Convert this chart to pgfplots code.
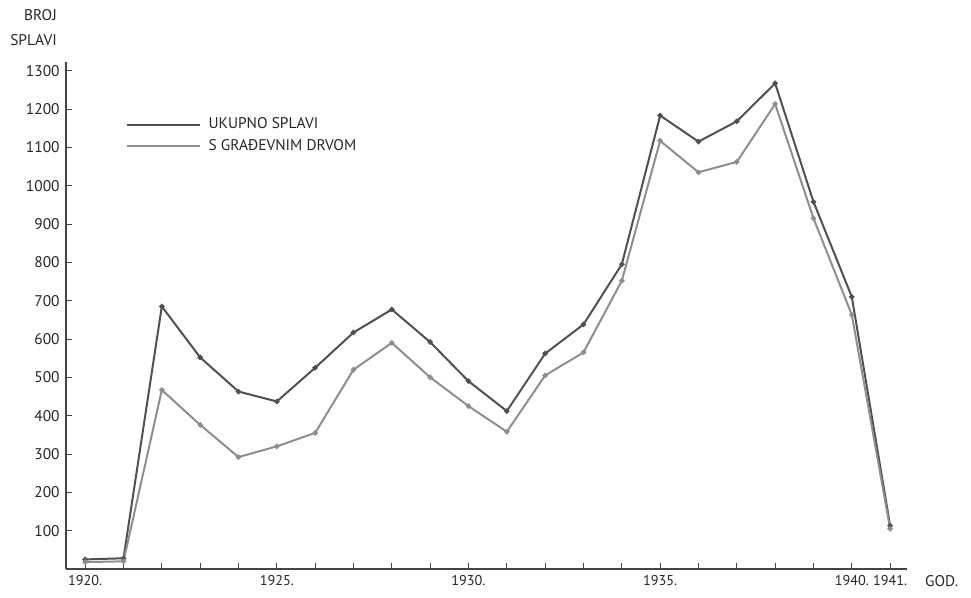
\documentclass[border=0pt]{standalone}
\usepackage{pgfplots}
\pgfplotsset{compat=1.18}
\usepackage{fontspec}
\setmainfont{PT Sans}
\definecolor{darkg}{HTML}{505050}
\definecolor{lightg}{HTML}{8E8E8E}
\definecolor{axg}{HTML}{444444}
\begin{document}
\fontsize{15.5}{18}\selectfont
\begin{tikzpicture}
\path[use as bounding box] (-66bp,-29bp) rectangle (905bp,569bp);
\begin{axis}[
  name=ax,
  at={(0,0)}, anchor=south west,
  scale only axis,
  width=841bp, height=507bp,
  xmin=1919.5, xmax=1941.44,
  ymin=0, ymax=1322.7,
  axis x line*=bottom, axis y line*=left,
  axis line style={axg, line width=1.3pt},
  every tick/.style={axg, line width=1pt},
  major tick length=6bp,
  tick align=inside,
  xtick={1920,1921,...,1941},
  xticklabels={1920.,,,,,1925.,,,,,1930.,,,,,1935.,,,,,1940.,1941.},
  ytick={100,200,...,1300},
  /pgf/number format/assume math mode=true,
  /pgf/number format/1000 sep={},
  yticklabel style={xshift=-1bp, font=\fontsize{15.5}{18}\selectfont, text=black!85},
  xticklabel style={yshift=-1bp, font=\fontsize{14.3}{18}\selectfont, text=black!85},
  legend style={draw=none, fill=none, at={(0.067,0.898)}, anchor=north west,
    font=\fontsize{15.5}{18}\selectfont, row sep=4bp, text=black!85,
    nodes={inner xsep=8bp}},
  legend cell align=left,
  legend image code/.code={\draw[#1, mark=none] (0bp,0bp) -- (73bp,0bp);},
  clip=false,
]
\addplot[darkg, line width=2pt, mark=*, mark size=1.6pt] coordinates {
(1920,25) (1921,28) (1922,685) (1923,552) (1924,463) (1925,437) (1926,525)
(1927,617) (1928,677) (1929,592) (1930,490) (1931,412) (1932,562) (1933,638)
(1934,795) (1935,1183) (1936,1115) (1937,1168) (1938,1267) (1939,958) (1940,710) (1941,113)};
\addlegendentry{UKUPNO SPLAVI}
\addplot[lightg, line width=2pt, mark=*, mark size=1.6pt] coordinates {
(1920,18) (1921,20) (1922,467) (1923,376) (1924,292) (1925,320) (1926,355)
(1927,520) (1928,590) (1929,500) (1930,425) (1931,358) (1932,505) (1933,565)
(1934,752) (1935,1117) (1936,1035) (1937,1062) (1938,1213) (1939,915) (1940,663) (1941,105)};
\addlegendentry{S GRAĐEVNIM DRVOM}
\node[anchor=north west, text=black!85, inner sep=0pt] at ([xshift=18bp,yshift=-6bp]rel axis cs:1,0) {GOD.};
\node[anchor=south east, align=right, text=black!85, inner sep=0pt, font=\fontsize{15.5}{25}\selectfont] at ([xshift=-9bp,yshift=16bp]rel axis cs:0,1) {BROJ\\SPLAVI};
\end{axis}
\end{tikzpicture}
\end{document}
